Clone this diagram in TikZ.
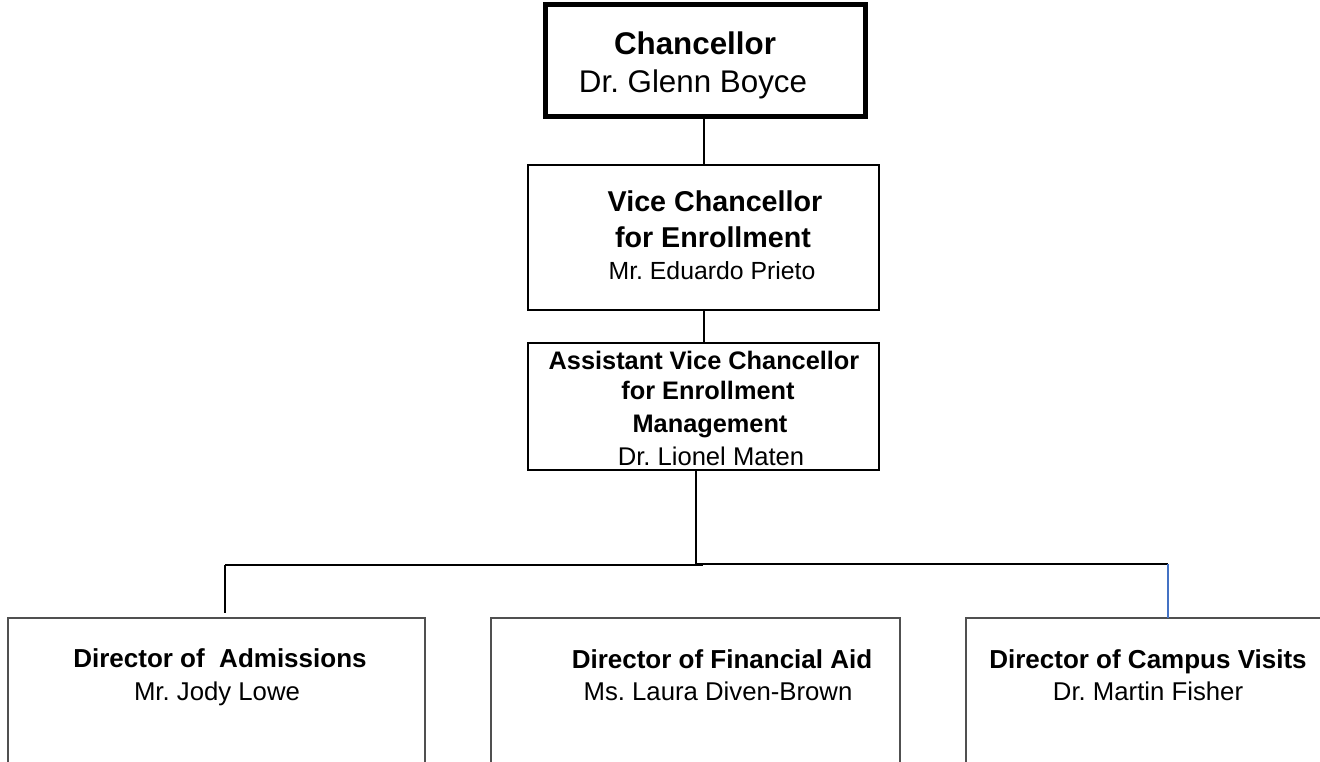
\documentclass[tikz,border=0pt]{standalone}
\usepackage{fontspec}
\setmainfont{Liberation Sans}
\frenchspacing
\definecolor{boxgray}{HTML}{505050}
\definecolor{linkblue}{HTML}{4472C4}
\tikzset{
  topbox/.style={draw=black, line width=3.75pt, rectangle, inner sep=0pt, outer sep=0pt, anchor=north west},
  midbox/.style={draw=black, line width=1.3pt, rectangle, inner sep=0pt, outer sep=0pt, anchor=north west},
  lowbox/.style={draw=boxgray, line width=1.1pt, rectangle, inner sep=0pt, outer sep=0pt, anchor=north west},
  txt/.style={anchor=base, inner sep=0pt},
  chb/.style={txt, font=\bfseries\fontsize{23.5pt}{28pt}\selectfont},
  chr/.style={txt, font=\fontsize{23.5pt}{28pt}\selectfont},
  vcb/.style={txt, font=\bfseries\fontsize{21.5pt}{26pt}\selectfont},
  vcr/.style={txt, font=\fontsize{18.6pt}{22pt}\selectfont},
  avb/.style={txt, font=\bfseries\fontsize{19pt}{23pt}\selectfont},
  avr/.style={txt, font=\fontsize{19.2pt}{23pt}\selectfont},
  dib/.style={txt, font=\bfseries\fontsize{19.5pt}{23pt}\selectfont},
  dir/.style={txt, font=\fontsize{19.3pt}{23pt}\selectfont},
  link/.style={draw=black, line width=1.2pt},
}
\begin{document}
\begin{tikzpicture}[x=0.75pt,y=-0.75pt]
\useasboundingbox (0,0) rectangle (1320,762);
\clip (0,0) rectangle (1320,762);
% boxes
\node[topbox, minimum width=320*0.75pt, minimum height=112*0.75pt] (ch) at (545,5) {};
\node[midbox, minimum width=351*0.75pt, minimum height=145*0.75pt] (vc) at (528,165) {};
\node[midbox, minimum width=351*0.75pt, minimum height=127*0.75pt] (av) at (528,343) {};
\node[lowbox, minimum width=417*0.75pt, minimum height=200*0.75pt] (ad) at (8,618) {};
\node[lowbox, minimum width=409*0.75pt, minimum height=200*0.75pt] (fa) at (491,618) {};
\node[lowbox, minimum width=380*0.75pt, minimum height=200*0.75pt] (cv) at (966,618) {};
% texts
\node[chb] (t1) at (695,55) {Chancellor};
\node[chr] (t2) at (693,93) {Dr. Glenn Boyce};
\node[vcb] (t3) at (715,212) {Vice Chancellor};
\node[vcb] (t4) at (713,248) {for Enrollment};
\node[vcr] (t5) at (712,280) {Mr. Eduardo Prieto};
\node[avb] (t6) at (704,370) {Assistant Vice Chancellor};
\node[avb] (t7) at (708,400) {for Enrollment};
\node[avb] (t8) at (710,433) {Management};
\node[avr] (t9) at (711,465) {Dr. Lionel Maten};
\node[dib] (t10) at (220,667) {Director of \ Admissions};
\node[dir] (t11) at (217,700) {Mr. Jody Lowe};
\node[dib] (t12) at (722,668) {Director of Financial Aid};
\node[dir] (t13) at (718,700) {Ms. Laura Diven-Brown};
\node[dib] (t14) at (1148,668) {Director of Campus Visits};
\node[dir] (t15) at (1148,700) {Dr. Martin Fisher};
% connectors
\coordinate (jn) at (696,565);
\coordinate (jl) at (225,565);
\coordinate (jr) at (1168,564);
\draw[link] (704,0 |- ch.south) -- (704,0 |- vc.north);
\draw[link] (704,0 |- vc.south) -- (704,0 |- av.north);
\draw[link] (696,0 |- av.south) -- (jn);
\draw[link, line width=1.6pt] (jl) -- (703,565);
\draw[link, line width=1.6pt] (jn |- jr) -- (jr);
\draw[link] (jl) -- (225,613);
\draw[draw=linkblue, line width=1.2pt] (jr) -- (1168,0 |- cv.north);
\end{tikzpicture}
\end{document}
